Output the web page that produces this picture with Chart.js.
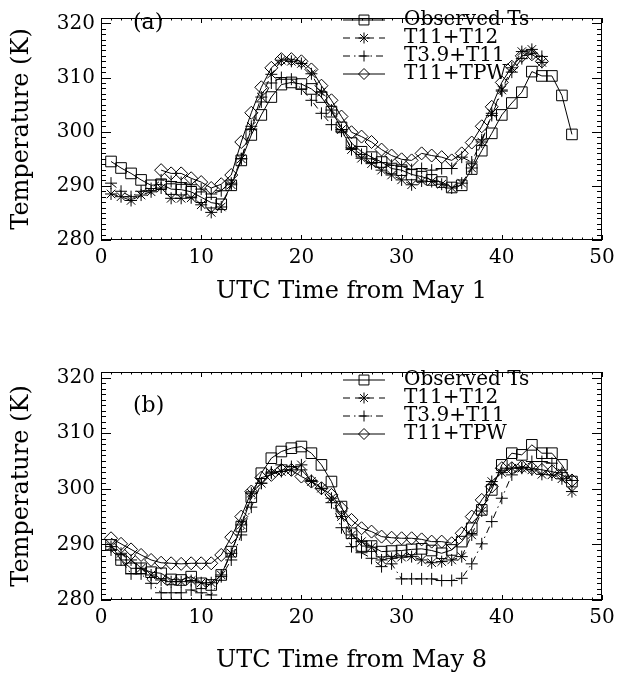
<!DOCTYPE html>
<html><head><meta charset="utf-8">
<script src="https://cdn.jsdelivr.net/npm/chart.js@4.4.0/dist/chart.umd.min.js"></script>
<style>
html,body{margin:0;padding:0;background:#fff;}
#wrap{position:relative;width:621px;height:673px;overflow:hidden;background:#fff;}
.pane{position:absolute;left:0;width:621px;}
</style></head><body>
<div id="wrap">
<div class="pane" style="top:0;height:336px"><canvas id="ca" width="621" height="336"></canvas></div>
<div class="pane" style="top:336px;height:337px"><canvas id="cb" width="621" height="337"></canvas></div>
</div>
<script>
// ---------- data ----------
const hours = [1,2,3,4,5,6,7,8,9,10,11,12,13,14,15,16,17,18,19,20,21,22,23,24,25,26,27,28,29,30,31,32,33,34,35,36,37,38,39,40,41,42,43,44,45,46,47];
const seriesNames = ['Observed Ts','T11+T12','T3.9+T11','T11+TPW'];
const xTickValues = [0,10,20,30,40,50];
const yTickValues = [280,290,300,310,320];
const xTitleA = 'UTC Time from May 1';
const xTitleB = 'UTC Time from May 8';
const yTitle = 'Temperature (K)';

// Panel (a)
const obsA = [294.5,293.3,292.3,291.1,290.1,290.3,289.4,289.3,288.9,287.9,286.9,286.6,290.1,294.7,299.4,303.1,306.4,308.7,309.1,308.8,307.9,306.4,303.7,300.8,297.9,296.3,295.3,294.4,293.2,292.9,292.1,291.7,291.1,290.7,289.7,290.1,293.1,296.5,299.7,303.1,305.3,307.3,311.1,310.3,310.3,306.7,299.5];
const t1112A = [288.5,288.0,287.3,288.3,288.9,289.6,287.7,287.7,287.8,286.5,285.1,286.1,290.2,295.0,301.0,306.4,310.6,313.2,313.0,312.6,310.7,307.3,304.0,300.4,296.7,295.1,294.1,292.9,292.0,291.1,290.2,290.9,290.8,290.3,289.6,290.5,293.3,298.1,303.4,307.7,311.8,314.8,315.2,312.8,null,null,null];
const t39A = [290.5,289.0,288.0,289.0,289.5,291.1,290.8,290.6,290.2,289.4,288.5,289.1,290.5,295.0,300.5,305.5,309.0,310.0,309.7,307.9,305.8,303.4,301.3,300.1,297.0,295.8,295.0,294.3,293.8,293.6,293.0,293.2,292.9,293.2,293.2,295.3,294.4,298.5,303.0,307.5,311.0,313.5,314.5,313.9,null,null,null];
const tpwA = [null,null,null,null,null,292.9,292.3,292.3,291.4,290.7,289.6,290.3,292.0,298.1,303.5,308.2,311.8,313.4,313.4,313.0,311.5,308.5,305.8,302.8,299.9,299.1,298.1,296.7,295.6,294.9,294.7,296.0,295.6,295.3,294.7,296.0,298.0,301.0,304.6,309.1,312.0,314.0,314.3,313.0,null,null,null];

// Panel (b)
const obsB = [289.9,287.2,285.7,285.7,285.0,284.8,283.7,283.6,284.2,283.0,282.7,284.5,288.7,293.2,298.5,302.8,305.5,306.7,307.3,307.6,306.4,304.3,301.3,296.8,292.0,289.7,289.7,288.7,288.8,288.9,289.1,289.2,288.9,288.4,289.0,290.5,292.9,296.2,299.8,304.3,306.4,306.1,307.9,306.4,306.4,304.3,301.3];
const t1112B = [289.6,288.4,287.2,285.7,284.5,283.6,283.3,283.3,283.5,283.1,283.1,284.5,288.4,293.5,299.2,301.0,302.8,303.1,303.4,304.3,301.3,300.1,298.3,295.0,291.7,290.5,289.5,287.2,287.5,287.7,287.8,287.2,286.7,286.9,287.2,287.8,291.7,296.0,301.3,302.9,303.7,303.7,303.4,302.6,302.5,301.8,299.5];
const t39B = [289.0,287.2,284.7,284.7,283.0,281.3,281.3,281.3,281.8,281.3,280.9,284.2,287.2,291.7,296.7,301.0,303.0,304.3,304.0,303.4,301.5,300.0,297.5,293.0,289.6,288.5,287.5,286.0,286.5,283.8,283.8,283.8,283.8,283.5,283.5,283.9,286.5,290.1,294.1,298.3,302.5,303.8,304.9,304.9,304.6,302.9,301.5];
const tpwB = [291.1,290.1,289.1,288.1,287.2,286.7,286.6,286.5,286.6,286.6,286.6,288.1,291.3,295.0,299.5,302.0,302.5,303.4,303.4,302.2,301.3,300.1,298.9,296.5,294.4,292.9,292.3,291.4,291.2,291.1,291.1,290.9,290.5,290.5,290.2,292.0,295.0,298.0,300.4,303.7,303.7,304.0,303.7,303.4,303.1,302.5,301.5];

// ---------- styling ----------
const FONT = 'DejaVu Serif';
const styles = [
  {pointStyle:'rect',    radius:7.5, dash:[]},
  {pointStyle:'star',    radius:6,   dash:[7,5]},
  {pointStyle:'cross',   radius:6,   dash:[7,4,1.5,4]},
  {pointStyle:'rectRot', radius:6.5, dash:[]}
];

function pts(arr){ return hours.map((h,i)=>({x:h, y:arr[i]})); }

function makeDatasets(list){
  return list.map((arr,i)=>({
    label: seriesNames[i],
    data: pts(arr),
    borderColor:'#000', borderWidth:1, borderDash:styles[i].dash,
    pointStyle:styles[i].pointStyle, pointRadius:styles[i].radius,
    pointBorderColor:'#000', pointBackgroundColor:'rgba(0,0,0,0)', pointBorderWidth:1,
    pointHoverRadius:styles[i].radius, tension:0, spanGaps:true, fill:false
  }));
}

// IDL-style frame with inward ticks on all sides
const framePlugin = {
  id:'frame',
  afterDatasetsDraw(chart){
    const {ctx, chartArea:a, scales:{x,y}} = chart;
    ctx.save();
    ctx.strokeStyle='#000'; ctx.lineWidth=1; ctx.setLineDash([]);
    ctx.strokeRect(a.left+0.5, a.top+0.5, a.right-a.left-1, a.bottom-a.top-1);
    ctx.beginPath();
    for(let v=x.min; v<=x.max; v+=1){
      const px = Math.round(x.getPixelForValue(v))+0.5;
      const L = (v%10===0)?5:2.5;
      ctx.moveTo(px,a.bottom); ctx.lineTo(px,a.bottom-L);
      ctx.moveTo(px,a.top); ctx.lineTo(px,a.top+L);
    }
    for(let v=y.min; v<=y.max; v+=1){
      const py = Math.round(y.getPixelForValue(v))+0.5;
      const L = (v%10===0)?10:5;
      ctx.moveTo(a.left,py); ctx.lineTo(a.left+L,py);
      ctx.moveTo(a.right,py); ctx.lineTo(a.right-L,py);
    }
    ctx.stroke();
    ctx.restore();
  }
};

// legend + panel label drawn as text
function legendPlugin(cfg){
  return {
    id:'idlLegend',
    afterDraw(chart){
      const ctx = chart.ctx;
      ctx.save();
      ctx.strokeStyle='#000'; ctx.lineWidth=1;
      ctx.font = '20px "'+FONT+'"';
      ctx.textBaseline='middle'; ctx.textAlign='left';
      chart.data.datasets.forEach((ds,i)=>{
        const yy = cfg.top + i*cfg.step;
        ctx.setLineDash(ds.borderDash);
        ctx.beginPath(); ctx.moveTo(cfg.x0,yy); ctx.lineTo(cfg.x1,yy); ctx.stroke();
        ctx.setLineDash([]);
        ctx.fillStyle='rgba(0,0,0,0)';
        Chart.helpers.drawPoint(ctx,{pointStyle:ds.pointStyle, radius:ds.pointStyle==='rect'?7:5.5, borderWidth:1, rotation:0}, cfg.xm, yy);
        ctx.fillStyle='#000';
        ctx.fillText(ds.label, cfg.xt, yy);
      });
      ctx.font = '22px "'+FONT+'"';
      ctx.fillText(cfg.panel, cfg.px, cfg.py);
      ctx.restore();
    }
  };
}

function makeChart(id, list, xTitle, lay, leg){
  return new Chart(document.getElementById(id), {
    type:'line',
    data:{datasets:makeDatasets(list)},
    options:{
      responsive:false, animation:false, devicePixelRatio:1,
      layout:{padding:lay.padding},
      plugins:{legend:{display:false}, tooltip:{enabled:false}},
      scales:{
        x:{type:'linear', min:0, max:50,
           afterBuildTicks(s){ s.ticks = xTickValues.map(v=>({value:v})); },
           afterFit(s){ s.height = lay.xh; },
           grid:{display:false, drawTicks:false}, border:{display:false},
           ticks:{color:'#000', padding:lay.xpad, maxRotation:0, font:{family:FONT, size:20}},
           title:{display:true, text:xTitle, color:'#000', padding:0, font:{family:FONT, size:24, lineHeight:1.0}}},
        y:{type:'linear', min:280, max:321,
           afterBuildTicks(s){ s.ticks = yTickValues.map(v=>({value:v})); },
           afterFit(s){ s.width = lay.yw; },
           grid:{display:false, drawTicks:false}, border:{display:false},
           ticks:{color:'#000', padding:6, font:{family:FONT, size:20}},
           title:{display:true, text:yTitle, color:'#000', padding:0, font:{family:FONT, size:24, lineHeight:1.0}}}
      }
    },
    plugins:[framePlugin, legendPlugin(leg)]
  });
}

makeChart('ca', [obsA,t1112A,t39A,tpwA], xTitleA,
  {padding:{top:12,left:10,right:19,bottom:32}, xh:64, yw:91, xpad:6},
  {top:20, step:18, x0:343, x1:385, xm:364, xt:404, panel:'(a)', px:133, py:23});
makeChart('cb', [obsB,t1112B,t39B,tpwB], xTitleB,
  {padding:{top:36,left:10,right:19,bottom:0}, xh:73, yw:91, xpad:6},
  {top:44, step:18, x0:343, x1:385, xm:364, xt:404, panel:'(b)', px:133, py:70});
</script>
</body></html>
